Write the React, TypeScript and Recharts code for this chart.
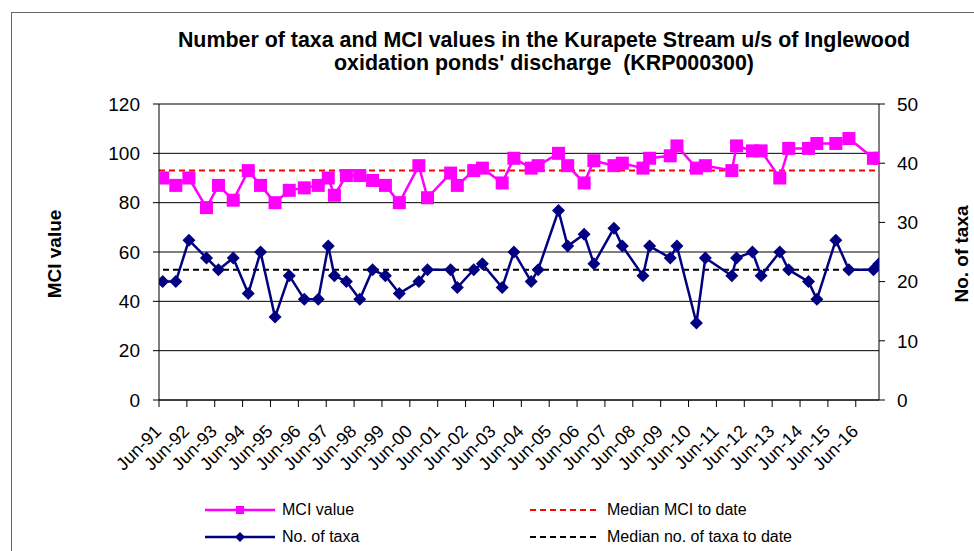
import React from "react";
import {
  LineChart,
  Line,
  XAxis,
  YAxis,
  CartesianGrid,
  ReferenceLine,
} from "recharts";

// sampling dates as decimal years
const sampleDates = [
  1991.55, 1992.02, 1992.49, 1993.12, 1993.55, 1994.08, 1994.62, 1995.06, 1995.58,
  1996.09, 1996.63, 1997.13, 1997.49, 1997.71, 1998.14, 1998.62, 1999.08, 1999.54,
  2000.04, 2000.74, 2001.05, 2001.88, 2002.12, 2002.71, 2003.02, 2003.73, 2004.15,
  2004.77, 2005.02, 2005.75, 2006.08, 2006.67, 2007.02, 2007.74, 2008.04, 2008.78,
  2009.02, 2009.76, 2010.0, 2010.7, 2011.02, 2011.97, 2012.14, 2012.71, 2013.02,
  2013.69, 2014.01, 2014.72, 2015.02, 2015.7, 2016.17, 2017.05, 2017.25,
];

const mciValues = [
  90, 87, 90, 78, 87, 81, 93, 87, 80, 85, 86, 87, 90, 83, 91, 91, 89, 87,
  80, 95, 82, 92, 87, 93, 94, 88, 98, 94, 95, 100, 95, 88, 97, 95, 96,
  94, 98, 99, 103, 94, 95, 93, 103, 101, 101, 90, 102, 102, 104, 104, 106, 98, 98,
];

const taxaCounts = [
  20, 20, 27, 24, 22, 24, 18, 25, 14, 21, 17, 17, 26, 21, 20, 17, 22, 21,
  18, 20, 22, 22, 19, 22, 23, 19, 25, 20, 22, 32, 26, 28, 23, 29, 26,
  21, 26, 24, 26, 13, 24, 21, 24, 25, 21, 25, 22, 20, 17, 27, 22, 22, 23,
];

const tickYears = [
  1991, 1992, 1993, 1994, 1995, 1996, 1997, 1998, 1999, 2000, 2001, 2002, 2003,
  2004, 2005, 2006, 2007, 2008, 2009, 2010, 2011, 2012, 2013, 2014, 2015, 2016,
];

const mciTicks = [0, 20, 40, 60, 80, 100, 120];
const taxaTicks = [0, 10, 20, 30, 40, 50];

const MCI_MEDIAN = 93;
const TAXA_MEDIAN = 22;

const JUNE = 5 / 12;

const data = sampleDates.map((d, i) => ({
  date: d,
  mci: mciValues[i],
  taxa: taxaCounts[i],
}));

const FONT = "'Liberation Sans', Arial, sans-serif";

const SquareDot = (props: any) => {
  const { cx, cy } = props;
  if (cx == null || cy == null) return null;
  return <rect x={cx - 6.5} y={cy - 6.5} width={13} height={13} fill="#ff00ff" />;
};

const DiamondDot = (props: any) => {
  const { cx, cy } = props;
  if (cx == null || cy == null) return null;
  const r = 6.5;
  return (
    <polygon
      points={`${cx},${cy - r} ${cx + r},${cy} ${cx},${cy + r} ${cx - r},${cy}`}
      fill="#000080"
    />
  );
};

const DateTick = (props: any) => {
  const { x, payload } = props;
  const yr = Math.floor(payload.value + 0.01);
  const label = "Jun-" + String(yr).slice(2);
  const tx = x - 1;
  const ty = 428;
  return (
    <text
      x={tx}
      y={ty}
      dy="0.35em"
      textAnchor="end"
      transform={`rotate(-45 ${tx} ${ty})`}
      fontSize={18}
      fontFamily={FONT}
      fill="#000"
    >
      {label}
    </text>
  );
};

const LegendSwatch = ({ kind }: { kind: string }) => {
  return (
    <svg width={70} height={12} style={{ display: "block" }}>
      {kind === "mci" && (
        <>
          <line x1={0} y1={6} x2={70} y2={6} stroke="#ff00ff" strokeWidth={2.5} />
          <rect x={31} y={2} width={8} height={8} fill="#ff00ff" />
        </>
      )}
      {kind === "taxa" && (
        <>
          <line x1={0} y1={6} x2={70} y2={6} stroke="#000080" strokeWidth={2.5} />
          <polygon points="35,1 40,6 35,11 30,6" fill="#000080" />
        </>
      )}
      {kind === "mciMed" && (
        <line x1={0} y1={6} x2={70} y2={6} stroke="#ff0000" strokeWidth={2} strokeDasharray="6 4" />
      )}
      {kind === "taxaMed" && (
        <line x1={0} y1={6} x2={70} y2={6} stroke="#000000" strokeWidth={2} strokeDasharray="6 4" />
      )}
    </svg>
  );
};

const legendItems = [
  { kind: "mci", label: "MCI value", x: 205, y: 510 },
  { kind: "mciMed", label: "Median MCI to date", x: 530, y: 510 },
  { kind: "taxa", label: "No. of taxa", x: 205, y: 537 },
  { kind: "taxaMed", label: "Median no. of taxa to date", x: 530, y: 537 },
];

export default function App() {
  return (
    <div
      style={{
        position: "absolute",
        left: 0,
        top: 0,
        width: 974,
        height: 551,
        background: "#fff",
        overflow: "hidden",
        fontFamily: FONT,
      }}
    >
      <div
        style={{
          position: "absolute",
          left: 11,
          top: 12,
          width: 980,
          height: 560,
          border: "1px solid #666",
        }}
      />
      <div
        style={{
          position: "absolute",
          left: 94,
          top: 29,
          width: 900,
          textAlign: "center",
          fontSize: 21.4,
          fontWeight: "bold",
          lineHeight: "23px",
          color: "#000",
        }}
      >
        Number of taxa and MCI values in the Kurapete Stream u/s of Inglewood
        <br />
        oxidation ponds' discharge&nbsp;&nbsp;(KRP000300)
      </div>
      <div
        style={{
          position: "absolute",
          left: 55,
          top: 254,
          transform: "translate(-50%, -50%) rotate(-90deg)",
          fontSize: 19,
          fontWeight: "bold",
          whiteSpace: "nowrap",
        }}
      >
        MCI value
      </div>
      <div
        style={{
          position: "absolute",
          left: 962,
          top: 254,
          transform: "translate(-50%, -50%) rotate(-90deg)",
          fontSize: 19,
          fontWeight: "bold",
          whiteSpace: "nowrap",
        }}
      >
        No. of taxa
      </div>
      <div style={{ position: "absolute", left: 0, top: 0 }}>
        <LineChart
          width={974}
          height={551}
          data={data}
          margin={{ top: 104, right: 35, bottom: 91, left: 99 }}
        >
          <CartesianGrid
            yAxisId="left"
            vertical={false}
            stroke="#000"
            strokeWidth={1}
          />
          <XAxis
            dataKey="date"
            type="number"
            domain={[1991 + JUNE, 2017.25]}
            ticks={tickYears.map((y) => y + JUNE)}
            allowDataOverflow
            height={60}
            interval={0}
            tickSize={7}
            tickLine={{ stroke: "#000" }}
            axisLine={{ stroke: "#000" }}
            tick={<DateTick />}
          />
          <YAxis
            yAxisId="left"
            orientation="left"
            width={60}
            domain={[0, 120]}
            ticks={mciTicks}
            interval={0}
            tickSize={6}
            tickMargin={13}
            axisLine={{ stroke: "#000" }}
            tickLine={{ stroke: "#000" }}
            tick={{ fontSize: 19, fill: "#000", fontFamily: FONT }}
          />
          <YAxis
            yAxisId="right"
            orientation="right"
            width={60}
            domain={[0, 50]}
            ticks={taxaTicks}
            interval={0}
            tickSize={6}
            tickMargin={12}
            axisLine={{ stroke: "#000" }}
            tickLine={{ stroke: "#000" }}
            tick={{ fontSize: 19, fill: "#000", fontFamily: FONT }}
          />
          <ReferenceLine
            yAxisId="left"
            y={MCI_MEDIAN}
            stroke="#ff0000"
            strokeWidth={2}
            strokeDasharray="6 4"
          />
          <ReferenceLine
            yAxisId="right"
            y={TAXA_MEDIAN}
            stroke="#000"
            strokeWidth={2}
            strokeDasharray="6 4"
          />
          <Line
            yAxisId="left"
            dataKey="mci"
            stroke="#ff00ff"
            strokeWidth={2.5}
            dot={<SquareDot />}
            activeDot={false}
            isAnimationActive={false}
          />
          <Line
            yAxisId="right"
            dataKey="taxa"
            stroke="#000080"
            strokeWidth={2.5}
            dot={<DiamondDot />}
            activeDot={false}
            isAnimationActive={false}
          />
        </LineChart>
      </div>
      {legendItems.map((it) => (
        <div
          key={it.label}
          style={{
            position: "absolute",
            left: it.x,
            top: it.y - 10,
            height: 20,
            display: "flex",
            alignItems: "center",
            fontSize: 16,
            whiteSpace: "nowrap",
          }}
        >
          <LegendSwatch kind={it.kind} />
          <span style={{ marginLeft: 7 }}>{it.label}</span>
        </div>
      ))}
    </div>
  );
}
